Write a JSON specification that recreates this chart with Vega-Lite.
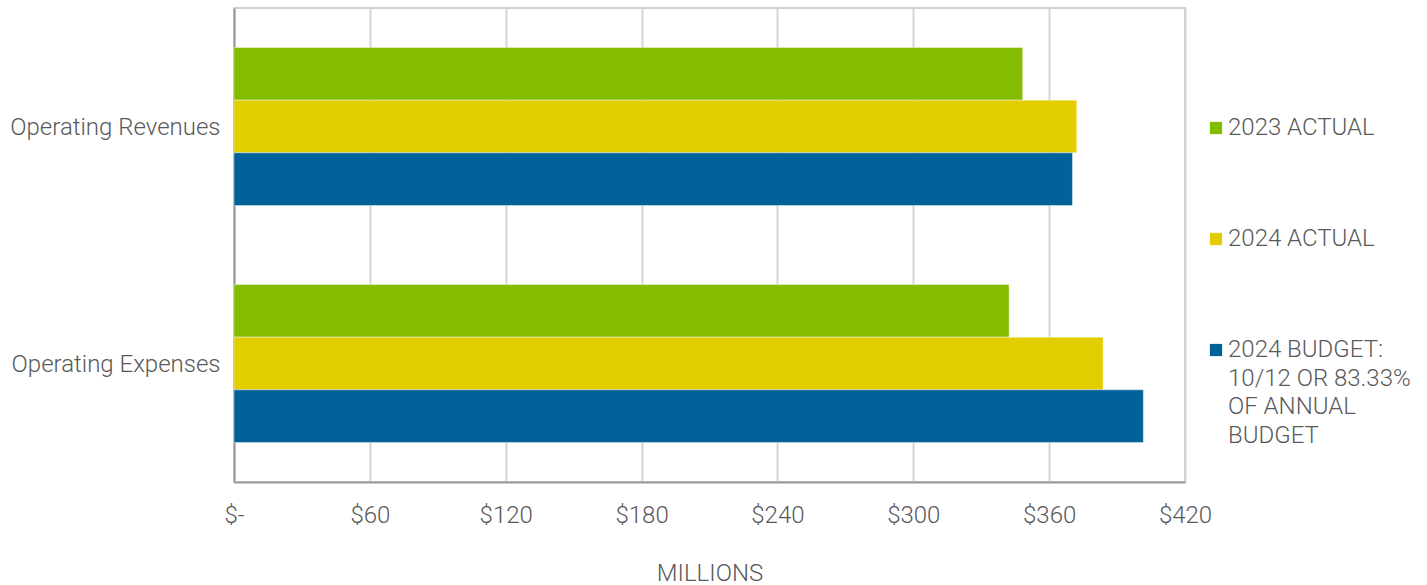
{
  "$schema": "https://vega.github.io/schema/vega-lite/v6.json",
  "autosize": {"type": "none"},
  "padding": {"left": 234, "top": 8, "right": 242, "bottom": 103},
  "width": 951,
  "height": 474,
  "background": "white",
  "config": {
    "font": "Roboto",
    "view": {"stroke": "#d0d0d0", "strokeWidth": 2},
    "style": {"guide-label": {"lineHeight": 28.7}},
    "axis": {"labelFont": "Roboto", "labelFontWeight": 300, "labelColor": "#595959", "labelFontSize": 24, "titleFont": "Roboto", "titleFontWeight": 300, "titleColor": "#595959", "titleFontSize": 24, "labelLimit": 400}
  },
  "data": {
    "values": [
      {"category": "Operating Revenues", "series": "2023 ACTUAL", "value": 348.3},
      {"category": "Operating Revenues", "series": "2024 ACTUAL", "value": 372.2},
      {"category": "Operating Revenues", "series": "2024 BUDGET: 10/12 OR 83.33% OF ANNUAL BUDGET", "value": 370.3},
      {"category": "Operating Expenses", "series": "2023 ACTUAL", "value": 342.3},
      {"category": "Operating Expenses", "series": "2024 ACTUAL", "value": 383.8},
      {"category": "Operating Expenses", "series": "2024 BUDGET: 10/12 OR 83.33% OF ANNUAL BUDGET", "value": 401.6}
    ]
  },
  "mark": {"type": "bar", "stroke": "white", "strokeOpacity": 0.4, "strokeWidth": 1},
  "encoding": {
    "y": {
      "field": "category", "type": "nominal",
      "sort": ["Operating Revenues", "Operating Expenses"],
      "scale": {"paddingInner": 0.3333, "paddingOuter": 0.1667},
      "axis": {"title": null, "ticks": false, "domain": true, "domainColor": "#9a9a9a", "domainWidth": 2, "labelPadding": 14, "labelOffset": 1.5, "grid": false}
    },
    "yOffset": {"field": "series", "type": "nominal", "scale": {"paddingInner": 0, "paddingOuter": 0}},
    "x": {
      "field": "value", "type": "quantitative",
      "scale": {"domain": [0, 420], "nice": false},
      "axis": {
        "title": "MILLIONS", "values": [0, 60, 120, 180, 240, 300, 360, 420],
        "labelExpr": "datum.value == 0 ? '$-' : '$' + datum.value",
        "ticks": false, "domain": true, "domainColor": "#9a9a9a", "domainWidth": 2,
        "grid": true, "gridColor": "#d4d4d4", "gridWidth": 2,
        "labelPadding": 21, "titlePadding": 34, "labelFlush": false
      }
    },
    "color": {
      "field": "series", "type": "nominal",
      "scale": {"domain": ["2023 ACTUAL", "2024 ACTUAL", "2024 BUDGET: 10/12 OR 83.33% OF ANNUAL BUDGET"], "range": ["#84BD00", "#E1CD00", "#006298"]},
      "legend": {
        "title": null, "orient": "none", "legendX": 970, "legendY": 108,
        "symbolType": "square", "symbolSize": 150, "symbolStrokeWidth": 0,
        "labelFont": "Roboto", "labelFontWeight": 300, "labelFontSize": 24, "labelColor": "#595959",
        "labelLimit": 400, "labelOffset": 0, "rowPadding": 87,
        "labelExpr": "datum.label == '2024 BUDGET: 10/12 OR 83.33% OF ANNUAL BUDGET' ? ['2024 BUDGET:', '10/12 OR 83.33%', 'OF ANNUAL', 'BUDGET'] : datum.label"
      }
    }
  }
}
